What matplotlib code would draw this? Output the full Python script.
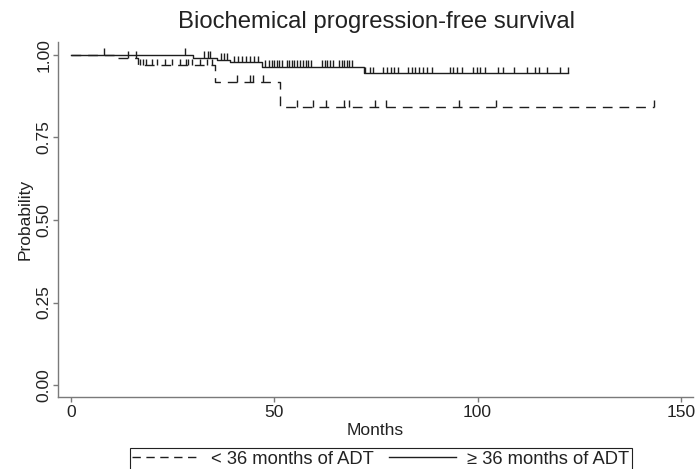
"""Kaplan-Meier style biochemical progression-free survival curves."""

import matplotlib

matplotlib.use("Agg")

import matplotlib.pyplot as plt
import numpy as np
from matplotlib.lines import Line2D

plt.rcParams["font.family"] = ["Liberation Sans", "DejaVu Sans"]

# < 36 months of ADT: step times (months) and survival after each step
short_times = [0, 11.5, 16.5, 35.5, 51.5]
short_surv = [1.0, 0.991, 0.968, 0.918, 0.843]
short_end = 143.5
short_cens = [14.0, 16.0, 17.0, 17.7, 18.4, 19.9, 21.1, 23.1, 24.8, 26.8, 28.3,
              28.8, 29.8, 31.7, 33.4, 34.7, 40.8, 44.0, 44.8, 47.2, 55.5, 59.5,
              62.8, 67.2, 68.5, 74.8, 77.5, 95.5, 104.5, 143.5]

# >= 36 months of ADT
long_times = [0, 30, 36, 39, 47, 72]
long_surv = [1.0, 0.992, 0.985, 0.977, 0.964, 0.944]
long_end = 122.2
long_cens = [8.0, 28.0, 32.7, 33.6, 34.3, 37.0, 37.7, 38.4, 40.0, 41.0, 42.0,
             43.0, 44.0, 45.0, 46.0, 47.8, 48.6, 49.4, 49.9, 50.7, 51.1, 51.9,
             53.1, 53.6, 54.3, 54.8, 55.6, 56.3, 57.0, 57.8, 58.3, 59.0, 61.7,
             62.5, 62.9, 63.7, 64.4, 65.9, 66.6, 67.1, 67.9, 68.4, 69.1, 72.3,
             73.5, 74.2, 76.7, 77.7, 78.7, 79.4, 80.4, 82.9, 83.8, 84.6, 85.6,
             86.6, 87.5, 88.8, 93.2, 93.9, 94.9, 96.1, 98.8, 99.8, 100.5, 101.8,
             105.0, 106.2, 108.9, 112.1, 114.1, 115.0, 117.0, 120.2, 122.2]

x_ticks = [0, 50, 100, 150]
y_ticks = [0.0, 0.25, 0.5, 0.75, 1.0]
y_tick_labels = ["0.00", "0.25", "0.50", "0.75", "1.00"]
labels = ["< 36 months of ADT", "\u2265 36 months of ADT"]

LINE = "#1e1e1e"
AXIS = "#7a7a7a"
TEXT = "#222222"
FS = 12.5


def surv_at(times, surv, t):
    idx = np.searchsorted(np.asarray(times), np.asarray(t), side="right") - 1
    return np.asarray(surv)[idx]


def draw_curve(ax, times, surv, end, cens, dashed):
    xs = list(times) + [end]
    ys = list(surv) + [surv[-1]]
    style = dict(color=LINE, linewidth=1.0, drawstyle="steps-post")
    if dashed:
        style["dashes"] = (7, 5)
    ax.plot(xs, ys, **style)
    base = surv_at(times, surv, cens)
    ax.vlines(cens, base, base + 0.02, color=LINE, linewidth=1.0)


fig = plt.figure(figsize=(6.95, 4.69), dpi=100)
ax = fig.add_axes([58 / 695, 1 - 397 / 469, 635 / 695, 355 / 469])

draw_curve(ax, short_times, short_surv, short_end, short_cens, dashed=True)
draw_curve(ax, long_times, long_surv, long_end, long_cens, dashed=False)

ax.set_xlim(-3.2, 153)
ax.set_ylim(-0.036, 1.039)
ax.set_xticks(x_ticks)
ax.set_yticks(y_ticks)
ax.set_yticklabels(y_tick_labels, rotation=90, va="center")
for side in ("top", "right"):
    ax.spines[side].set_visible(False)
for side in ("left", "bottom"):
    ax.spines[side].set_color(AXIS)
    ax.spines[side].set_linewidth(1.0)
ax.tick_params(length=3.6, width=1.0, color=AXIS, labelcolor=TEXT,
               labelsize=FS, direction="out")
ax.tick_params(axis="x", pad=2)
ax.tick_params(axis="y", pad=1.0)
ax.set_xlabel("Months", fontsize=FS, color=TEXT, labelpad=2)
ax.set_ylabel("Probability", fontsize=FS, color=TEXT, labelpad=3)

fig.text(376 / 695, 1 - 22 / 469, "Biochemical progression-free survival",
         ha="center", va="center", fontsize=17.2, color=TEXT)

handles = [Line2D([], [], color=LINE, linewidth=1.0, dashes=(6, 4)),
           Line2D([], [], color=LINE, linewidth=1.0)]
leg = fig.legend(handles, labels, loc="center", ncol=2,
                 bbox_to_anchor=(381 / 695, 1 - 459 / 469),
                 frameon=True, fancybox=False, edgecolor=TEXT,
                 framealpha=1, handlelength=3.7, handletextpad=0.6,
                 columnspacing=0.8, borderpad=0.12, fontsize=13.2)
leg.get_frame().set_linewidth(0.8)
for text in leg.get_texts():
    text.set_color(TEXT)

fig.savefig("out.png", dpi=100)
